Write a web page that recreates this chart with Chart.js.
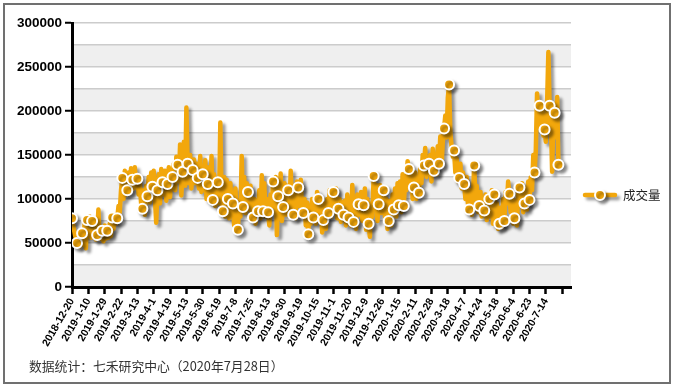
<!DOCTYPE html>
<html>
<head>
<meta charset="utf-8">
<script src="https://cdn.jsdelivr.net/npm/chart.js@4/dist/chart.umd.min.js"></script>
<style>
html,body{margin:0;padding:0;background:#fff;}
#wrap{position:relative;width:674px;height:387px;overflow:hidden;background:#fff;}
#c{position:absolute;left:0;top:0;}
#frame{position:absolute;left:3px;top:3px;width:668px;height:381px;border:2px solid #707070;box-sizing:border-box;pointer-events:none;}
#foot{position:absolute;left:29px;top:356px;font-size:12.8px;font-family:"Noto Sans CJK SC","Noto Sans",sans-serif;color:#333;white-space:nowrap;}
</style>
</head>
<body>
<div id="wrap">
<canvas id="c" width="674" height="387"></canvas>
<div id="frame"></div>
<div id="foot">数据统计：七禾研究中心（2020年7月28日）</div>
</div>
<script>
const seriesName = "成交量";
const tickLabels = ["2018-12-20","2019-1-10","2019-1-29","2019-2-22","2019-3-13","2019-4-1","2019-4-19","2019-5-13","2019-5-30","2019-6-19","2019-7-8","2019-7-25","2019-8-13","2019-8-30","2019-9-19","2019-10-15","2019-11-1","2019-11-20","2019-12-9","2019-12-26","2020-1-15","2020-2-11","2020-2-28","2020-3-18","2020-4-7","2020-4-24","2020-5-18","2020-6-4","2020-6-23","2020-7-14"];
const volume = [
78000,70000,62000,55000,50000,58000,46000,63000,61000,48000,72000,44000,
76000,60000,80000,56000,75000,58000,72000,54000,59000,88000,55000,66000,
64000,52000,70000,55000,64000,56000,72000,58000,79000,66000,82000,72000,
78000,92000,85000,110000,124000,100000,132000,105000,110000,130000,108000,135000,
122000,112000,136000,115000,123000,105000,118000,95000,89000,110000,82000,115000,
103000,125000,96000,130000,114000,132000,100000,73000,110000,128000,95000,134000,
119000,105000,132000,98000,117000,136000,102000,128000,125000,140000,110000,148000,
139000,120000,162000,104000,131000,165000,115000,204000,140000,118000,150000,112000,
133000,145000,118000,140000,124000,112000,149000,108000,128000,110000,144000,100000,
117000,136000,98000,149000,99000,128000,92000,120000,119000,95000,187000,100000,
86000,125000,80000,122000,100000,78000,118000,88000,95000,70000,112000,82000,
65000,98000,80000,149000,91000,125000,84000,118000,108000,88000,115000,76000,
79000,100000,72000,95000,86000,110000,78000,127000,86000,118000,80000,100000,
85000,70000,105000,90000,120000,98000,125000,59000,103000,85000,129000,75000,
91000,118000,82000,115000,110000,88000,132000,95000,82000,115000,78000,120000,
113000,92000,122000,86000,84000,100000,70000,96000,60000,92000,72000,100000,
79000,98000,72000,108000,100000,78000,95000,62000,76000,95000,66000,100000,
84000,110000,80000,102000,108000,86000,112000,78000,89000,100000,74000,96000,
82000,98000,70000,105000,79000,92000,70000,116000,74000,100000,66000,105000,
94000,82000,108000,75000,93000,112000,65000,100000,72000,57000,95000,80000,
126000,90000,116000,75000,94000,116000,84000,108000,110000,80000,100000,66000,
75000,98000,70000,105000,88000,112000,80000,118000,93000,120000,85000,128000,
92000,122000,110000,143000,134000,118000,128000,100000,113000,130000,100000,122000,
107000,135000,118000,150000,138000,158000,125000,145000,140000,150000,120000,157000,
132000,145000,128000,160000,140000,171000,138000,165000,180000,195000,170000,215000,
230000,175000,160000,148000,155000,130000,146000,120000,124000,140000,112000,130000,
117000,100000,125000,95000,88000,110000,82000,105000,138000,100000,115000,85000,
92000,108000,80000,100000,87000,105000,76000,98000,100000,80000,110000,72000,
105000,78000,95000,66000,72000,90000,68000,100000,75000,108000,95000,120000,
106000,85000,100000,72000,78000,98000,70000,110000,113000,92000,118000,85000,
95000,112000,88000,120000,99000,125000,110000,150000,130000,155000,220000,195000,
206000,180000,200000,172000,179000,165000,210000,267000,206000,190000,131000,195000,
198000,170000,216000,139000
];
const xMaxCategory = 397;
const yMax = 300000;
const yStep = 25000;
const yLabelStep = 50000;
const labelEvery = 13;

const ORANGE = '#F2A70C';

const bandsPlugin = {
  id: 'bands',
  beforeDraw(chart) {
    const {ctx, chartArea: a, scales: {y}} = chart;
    ctx.save();
    ctx.fillStyle = '#fff';
    ctx.fillRect(0, 0, chart.width, chart.height);
    ctx.fillStyle = '#efefef';
    for (let v = 0; v < yMax; v += yStep) {
      if ((v / yStep) % 2 === 0) {
        const t = y.getPixelForValue(v + yStep), b = y.getPixelForValue(v);
        ctx.fillRect(a.left, t, a.right - a.left, b - t);
      }
    }
    ctx.restore();
  }
};
const shadowPlugin = {
  id: 'shadow',
  beforeDatasetsDraw(chart) {
    const ctx = chart.ctx;
    ctx.save();
    ctx.shadowColor = 'rgba(0,0,0,0.4)';
    ctx.shadowOffsetX = 3;
    ctx.shadowOffsetY = 3;
    ctx.shadowBlur = 3;
  },
  afterDatasetsDraw(chart) { chart.ctx.restore(); }
};
const legendPlugin = {
  id: 'customLegend',
  afterDraw(chart) {
    const ctx = chart.ctx;
    const ds = chart.data.datasets[0];
    const x0 = 585, x1 = 615, yy = 195;
    ctx.save();
    ctx.shadowColor = 'rgba(0,0,0,0.4)';
    ctx.shadowOffsetX = 3; ctx.shadowOffsetY = 3; ctx.shadowBlur = 3;
    ctx.strokeStyle = ds.borderColor; ctx.lineWidth = 4.5; ctx.lineCap = 'round';
    ctx.beginPath(); ctx.moveTo(x0, yy); ctx.lineTo(x1, yy); ctx.stroke();
    ctx.beginPath(); ctx.arc((x0 + x1) / 2, yy, 5, 0, Math.PI * 2);
    ctx.fillStyle = ds.pointBackgroundColor; ctx.fill();
    ctx.lineWidth = 2; ctx.strokeStyle = '#fff'; ctx.stroke();
    ctx.restore();
    ctx.save();
    ctx.fillStyle = '#222';
    ctx.font = '12.5px "Noto Sans CJK SC"';
    ctx.textBaseline = 'middle';
    ctx.fillText(ds.label, 623, yy);
    ctx.restore();
  }
};

new Chart(document.getElementById('c'), {
  type: 'line',
  data: {
    datasets: [{
      label: seriesName,
      data: volume.map((v, i) => ({x: i, y: v})),
      borderColor: ORANGE,
      backgroundColor: ORANGE,
      borderWidth: 4.5,
      tension: 0,
      borderJoinStyle: 'round',
      borderCapStyle: 'round',
      pointRadius: c => (c.dataIndex % 4 === 0 || c.dataIndex === volume.length - 1) ? 5 : 0,
      pointHoverRadius: 0,
      pointBackgroundColor: ORANGE,
      pointBorderColor: '#fff',
      pointBorderWidth: 2
    }]
  },
  options: {
    responsive: false,
    animation: false,
    events: [],
    layout: {padding: {left: 0, right: 103, top: 23, bottom: 0}},
    plugins: {legend: {display: false}, tooltip: {enabled: false}},
    scales: {
      x: {
        type: 'linear', min: 0, max: xMaxCategory,
        afterFit(s) { s.height = 100; },
        border: {color: '#000', width: 3},
        grid: {drawOnChartArea: false, tickLength: 7, tickWidth: 2.5, tickColor: '#000'},
        ticks: {
          stepSize: labelEvery, autoSkip: false, includeBounds: false,
          maxRotation: 60, minRotation: 60, padding: 2, color: '#000',
          font: {family: 'Liberation Sans', weight: 'bold', size: 10.5},
          callback: v => {
            const j = Math.round(v / labelEvery);
            return (v % labelEvery === 0 && j < tickLabels.length) ? tickLabels[j] : '';
          }
        }
      },
      y: {
        min: 0, max: yMax,
        afterFit(s) { s.width = 72; },
        border: {color: '#000', width: 3},
        grid: {
          color: '#cccccc', lineWidth: 1.5, tickLength: 7, tickWidth: 2,
          tickColor: c => (c.tick && c.tick.value % yLabelStep === 0) ? '#000' : 'rgba(0,0,0,0)'
        },
        ticks: {
          stepSize: yStep, padding: 3, color: '#000',
          font: {family: 'Liberation Sans', weight: 'bold', size: 13.5},
          callback: v => (v % yLabelStep === 0) ? String(v) : ''
        }
      }
    }
  },
  plugins: [bandsPlugin, shadowPlugin, legendPlugin]
});
</script>
</body>
</html>
